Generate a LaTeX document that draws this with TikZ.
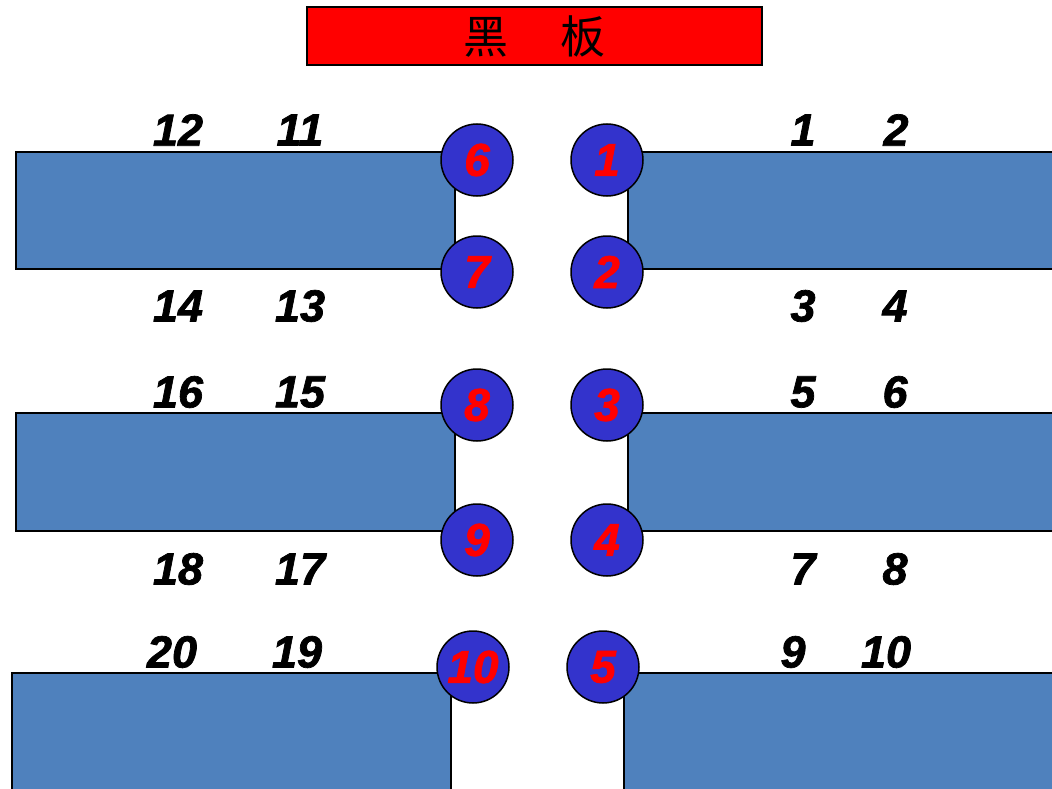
\documentclass[tikz,border=0pt]{standalone}
\usepackage{fontspec}
\setsansfont{Liberation Sans}
\newfontfamily\cjk{Noto Sans CJK SC}
\newfontfamily\heavy{Liberation Sans Bold Italic}[FakeBold=1.6]
\usetikzlibrary{positioning}
\definecolor{deskblue}{RGB}{79,129,189}
\definecolor{seatblue}{RGB}{51,51,204}

\tikzset{
  desk/.style={draw=black,line width=1.5pt,fill=deskblue,rectangle,inner sep=0pt},
  seat/.style={circle,draw=black,line width=1.5pt,fill=seatblue,minimum size=72pt,inner sep=0pt,
    text=red,font=\heavy\fontsize{46}{46}\selectfont},
  num/.style={font=\heavy\fontsize{45}{45}\selectfont,inner sep=0pt}
}

\begin{document}
\begin{tikzpicture}[x=1pt,y=-1pt]

\useasboundingbox (0,0) rectangle (1052,789);
\clip (0,0) rectangle (1052,789);

\node[draw=black,line width=1.5pt,fill=red,minimum width=455pt,minimum height=58pt,inner sep=0pt,
  font=\cjk\fontsize{45}{45}\selectfont] (board) at (534.5,36) {黑\hspace{8pt}　板};

% desks
\node[desk,minimum width=439pt,minimum height=117pt] (L1) at (235.5,210.5) {};
\node[desk,minimum width=427pt,minimum height=117pt] (R1) at (841.5,210.5) {};
\node[desk,minimum width=439pt,minimum height=118pt] (L2) at (235.5,472) {};
\node[desk,minimum width=427pt,minimum height=118pt] (R2) at (841.5,472) {};
\node[desk,minimum width=439pt,minimum height=124pt] (L3) at (231.5,735) {};
\node[desk,minimum width=431pt,minimum height=124pt] (R3) at (839.5,735) {};

% seats
\node[seat] (s1)  at (607,160) {1};
\node[seat] (s2)  at (607,272) {2};
\node[seat] (s3)  at (607,405) {3};
\node[seat] (s4)  at (607,540) {4};
\node[seat] (s5)  at (603,667) {5};
\node[seat] (s6)  at (477,160) {6};
\node[seat] (s7)  at (477,272) {7};
\node[seat] (s8)  at (477,405) {8};
\node[seat] (s9)  at (477,540) {9};
\node[seat] (s10) at (473,667) {10};

% numbers
\node[num] (n1)  at (803,130) {1};
\node[num] (n2)  at (896,130) {2};
\node[num] (n3)  at (803,306) {3};
\node[num] (n4)  at (895,306) {4};
\node[num] (n5)  at (803,392) {5};
\node[num] (n6)  at (895,392) {6};
\node[num] (n7)  at (803,569) {7};
\node[num] (n8)  at (895,569) {8};
\node[num] (n9)  at (793,652) {9};
\node[num] (n10) at (886,652) {10};

\node[num] (n11) at (300,130) {11};
\node[num] (n12) at (178,130) {12};
\node[num] (n13) at (300,306) {13};
\node[num] (n14) at (178,306) {14};
\node[num] (n15) at (300,392) {15};
\node[num] (n16) at (178,392) {16};
\node[num] (n17) at (300,569) {17};
\node[num] (n18) at (178,569) {18};
\node[num] (n19) at (297,652) {19};
\node[num] (n20) at (172,652) {20};

\end{tikzpicture}
\end{document}
